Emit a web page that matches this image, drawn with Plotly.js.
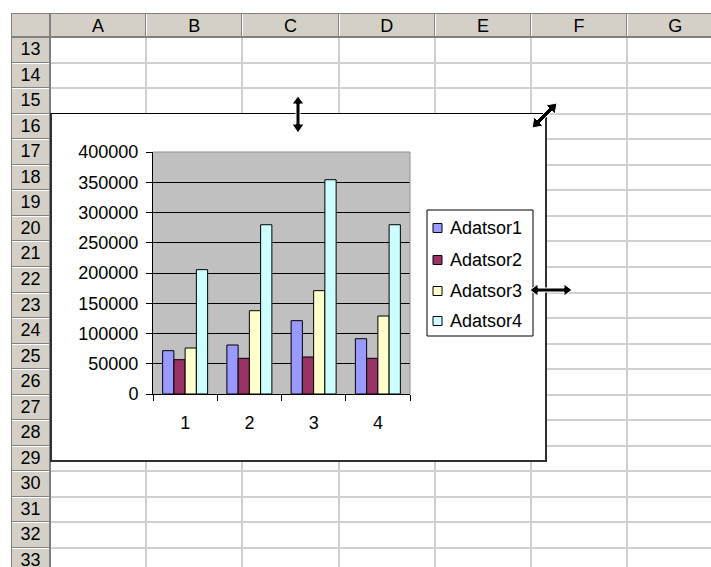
<!DOCTYPE html>
<html>
<head>
<meta charset="utf-8">
<script src="https://cdn.plot.ly/plotly-3.0.1.min.js"></script>
<style>
  html, body { margin:0; padding:0; width:711px; height:567px; overflow:hidden; background:#fff; }
  #sheet { position:absolute; left:0; top:0; width:711px; height:567px; }
  .hdr { position:absolute; background:#D4D0C8; }
  .ln { position:absolute; }
  .lbl { position:absolute; font-family:"Liberation Sans", Arial, sans-serif; font-size:18px; color:#000; text-align:center; }
  #chartbox { position:absolute; left:50px; top:113px; width:493px; height:346px; background:#fff;
              border-top:1px solid #000; border-left:2px solid #303030; border-right:2px solid #303030; border-bottom:2px solid #303030; }
  #chart { position:absolute; left:0; top:0; width:493px; height:346px; }
  .handle { position:absolute; width:8px; height:8px; background:#000; }
  #cursors { position:absolute; left:0; top:0; width:711px; height:567px; pointer-events:none; }
</style>
</head>
<body>
<div id="sheet"></div>
<div id="chartbox"><div id="chart"></div></div>
<svg id="cursors" width="711" height="567"></svg>
<script>
// ---- data ----
const categories = ['1', '2', '3', '4'];
const seriesNames = ['Adatsor1', 'Adatsor2', 'Adatsor3', 'Adatsor4'];
const adatsor1 = [71600, 81000, 121200, 91400];
const adatsor2 = [56700, 59000, 61200, 59000];
const adatsor3 = [76000, 137700, 170800, 128900];
const adatsor4 = [205500, 279800, 354200, 279800];
const seriesColors = ['#9999FF', '#993366', '#FFFFCC', '#CCFFFF'];
const yTickValues = [0, 50000, 100000, 150000, 200000, 250000, 300000, 350000, 400000];
const colLabels = ['A', 'B', 'C', 'D', 'E', 'F', 'G'];
const rowLabels = ['13','14','15','16','17','18','19','20','21','22','23','24','25','26','27','28','29','30','31','32','33'];

// ---- spreadsheet background ----
const sheet = document.getElementById('sheet');
function box(cls, l, t, w, h, bg) {
  const d = document.createElement('div');
  d.className = cls;
  d.style.left = l + 'px'; d.style.top = t + 'px';
  d.style.width = w + 'px'; d.style.height = h + 'px';
  if (bg) d.style.background = bg;
  sheet.appendChild(d);
  return d;
}
const hdrTop = 13, hdrBot = 37, rowHdrL = 11, rowHdrR = 50;
const colW = 96.2, rowH = 25.55;
for (let i = 1; i <= colLabels.length; i++) {
  const x = Math.round(rowHdrR + i * colW);
  box('ln', x - 1, hdrBot, 2, 567 - hdrBot, '#D0D0D0');
}
for (let j = 1; j <= rowLabels.length; j++) {
  const y = Math.round(hdrBot + j * rowH);
  box('ln', rowHdrR, y - 1, 711 - rowHdrR, 2, '#D0D0D0');
}
box('hdr', rowHdrL, hdrTop, 711 - rowHdrL, hdrBot - hdrTop);
box('hdr', rowHdrL, hdrTop, rowHdrR - rowHdrL, 567 - hdrTop);
box('ln', rowHdrL, hdrTop, 711 - rowHdrL, 1, '#808080');
box('ln', rowHdrL, hdrTop, 1, 567 - hdrTop, '#808080');
box('ln', rowHdrL, hdrBot - 1, 711 - rowHdrL, 2, '#808080');
box('ln', rowHdrR - 1, hdrTop, 2, 567 - hdrTop, '#808080');
colLabels.forEach((c, i) => {
  const x0 = rowHdrR + i * colW;
  const x1 = x0 + colW;
  box('ln', Math.round(x1) - 1, hdrTop, 1, hdrBot - hdrTop, '#808080');
  box('ln', Math.round(x1), hdrTop + 1, 1, hdrBot - hdrTop - 2, '#FFFFFF');
  const l = box('lbl', x0, hdrTop + 2, colW, hdrBot - hdrTop - 2);
  l.textContent = c;
  l.style.lineHeight = (hdrBot - hdrTop - 2) + 'px';
});
rowLabels.forEach((r, j) => {
  const y0 = hdrBot + j * rowH;
  const y1 = y0 + rowH;
  box('ln', rowHdrL, Math.round(y1) - 1, rowHdrR - rowHdrL - 1, 1, '#808080');
  box('ln', rowHdrL + 1, Math.round(y1), rowHdrR - rowHdrL - 2, 1, '#FFFFFF');
  const l = box('lbl', rowHdrL, y0, rowHdrR - rowHdrL, rowH);
  l.textContent = r;
  l.style.lineHeight = rowH + 'px';
});
[[50,114],[50,453],[294,453],[537,453],[50,284]].forEach(p => box('handle', p[0], p[1], 8, 8));

// ---- cursors ----
document.getElementById('cursors').innerHTML = `
  <path d="M298,96 L292,104 L296,104 L296,124 L292,124 L298,133 L304,124 L300,124 L300,104 L304,104 Z" fill="#000" stroke="#fff" stroke-width="1"/>
  <path d="M557,103 L546,105 L549,108 L537,120 L534,117 L532,128 L543,126 L540,123 L552,111 L555,114 Z" fill="#000" stroke="#fff" stroke-width="1"/>
  <path d="M530,290 L538,284 L538,288 L564,288 L564,284 L572,290 L564,296 L564,292 L538,292 L538,296 Z" fill="#000" stroke="#fff" stroke-width="1"/>`;

// ---- chart ----
const font = { family: '"Liberation Sans", Arial, sans-serif', size: 18, color: '#000' };
const allSeries = [adatsor1, adatsor2, adatsor3, adatsor4];
const traces = allSeries.map((vals, i) => ({
  type: 'bar',
  x: categories,
  y: vals,
  name: seriesNames[i],
  marker: { color: seriesColors[i], line: { color: '#000', width: 1 } },
  hoverinfo: 'skip'
}));

// plot area in chart-div pixels
const W = 493, H = 346, mL = 101, mR = 135, mT = 38, mB = 66;
const pw = W - mL - mR, ph = H - mT - mB;
const px = v => (v - mL) / pw;            // pixel -> paper x
const py = v => (H - mB - v) / ph;        // pixel -> paper y

// legend (drawn as layout shapes + annotations, names from seriesNames)
const legBox = { x0: 375, x1: 481, y0: 96, y1: 222 };
const legRowY = [114, 146, 177, 207];
const shapes = [
  { type: 'line', xref: 'x domain', yref: 'y domain', x0: 0, x1: 1, y0: 1, y1: 1,
    line: { color: '#909090', width: 1 }, layer: 'above' },
  { type: 'line', xref: 'x domain', yref: 'y domain', x0: 1, x1: 1, y0: 0, y1: 1,
    line: { color: '#909090', width: 1 }, layer: 'above' },
  { type: 'rect', xref: 'paper', yref: 'paper',
    x0: px(legBox.x0), x1: px(legBox.x1), y0: py(legBox.y1), y1: py(legBox.y0),
    line: { color: '#000', width: 1 }, fillcolor: '#FFFFFF', layer: 'above' }
];
const annotations = [];
seriesNames.forEach((n, i) => {
  const cy = legRowY[i];
  shapes.push({ type: 'rect', xref: 'paper', yref: 'paper',
    x0: px(381), x1: px(390), y0: py(cy + 4.5), y1: py(cy - 4.5),
    line: { color: '#000', width: 1 }, fillcolor: seriesColors[i], layer: 'above' });
  annotations.push({ xref: 'paper', yref: 'paper', x: px(396), y: py(cy),
    xanchor: 'left', yanchor: 'middle', text: n, showarrow: false, font: font });
});

const layout = {
  width: W, height: H,
  margin: { l: mL, r: mR, t: mT, b: mB, pad: 0 },
  paper_bgcolor: '#FFFFFF',
  plot_bgcolor: '#C0C0C0',
  font: font,
  barmode: 'group',
  bargap: 0.3,
  bargroupgap: 0,
  showlegend: false,
  xaxis: {
    type: 'category',
    categoryarray: categories,
    ticks: 'outside', tickson: 'boundaries', ticklen: 6, tickwidth: 1, tickcolor: '#000',
    showline: true, linecolor: '#000', linewidth: 1,
    showgrid: false, zeroline: false,
    ticklabelstandoff: 12,
    tickfont: font
  },
  yaxis: {
    range: [0, 400000],
    tickvals: yTickValues,
    ticktext: yTickValues.map(v => String(v)),
    ticks: 'outside', ticklen: 6, tickwidth: 1, tickcolor: '#000',
    showline: true, linecolor: '#000', linewidth: 1,
    showgrid: true, gridcolor: '#000', gridwidth: 1,
    zeroline: false,
    ticklabelstandoff: 4,
    tickfont: font
  },
  shapes: shapes,
  annotations: annotations
};

Plotly.newPlot('chart', traces, layout, { staticPlot: true, displayModeBar: false });
</script>
</body>
</html>
